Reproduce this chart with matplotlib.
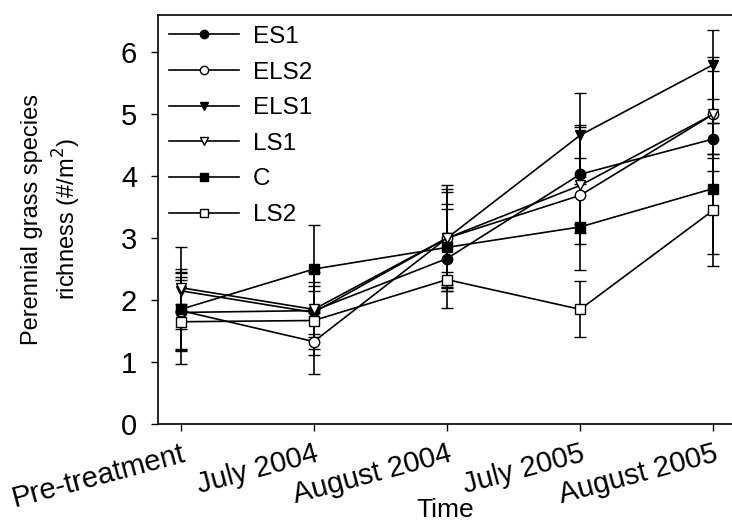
import numpy as np
import matplotlib
matplotlib.use("Agg")
import matplotlib.pyplot as plt

plt.rcParams['font.family'] = ['Liberation Sans', 'DejaVu Sans']

# sampling dates
times = ["Pre-treatment", "July 2004", "August 2004", "July 2005", "August 2005"]

# mean richness per treatment
es1 = [1.80, 1.83, 2.67, 4.03, 4.60]
els2 = [1.83, 1.33, 3.00, 3.69, 5.00]
els1 = [2.15, 1.80, 3.00, 4.66, 5.80]
ls1 = [2.20, 1.85, 3.00, 3.85, 5.00]
c = [1.85, 2.50, 2.85, 3.18, 3.80]
ls2 = [1.65, 1.67, 2.33, 1.85, 3.45]

# standard errors
es1_err = [0.63, 0.62, 0.80, 0.80, 0.25]
els2_err = [0.62, 0.52, 0.80, 0.61, 0.70]
els1_err = [0.22, 0.35, 0.75, 0.68, 0.55]
ls1_err = [0.66, 0.44, 0.85, 0.95, 0.92]
c_err = [0.65, 0.71, 0.70, 0.70, 1.05]
ls2_err = [0.68, 0.55, 0.12, 0.45, 0.90]

series = [
    ("ES1", es1, es1_err, 'o', 'black'),
    ("ELS2", els2, els2_err, 'o', 'white'),
    ("ELS1", els1, els1_err, 'v', 'black'),
    ("LS1", ls1, ls1_err, 'v', 'white'),
    ("C", c, c_err, 's', 'black'),
    ("LS2", ls2, ls2_err, 's', 'white'),
]

fig = plt.figure(figsize=(7.32, 5.22), dpi=100)
ax = fig.add_axes([158 / 732, 98 / 522, 574 / 732, 409 / 522])

x = np.arange(len(times))
for name, vals, err, mk, fc in series:
    ax.errorbar(x, vals, yerr=err, color='black', lw=1.2, elinewidth=1.2,
                capsize=4.5, capthick=1.2, marker=mk, markersize=7.5,
                markerfacecolor=fc, markeredgecolor='black',
                markeredgewidth=1.0, label=name)

ax.set_xlim(-0.17, 4.14)
ax.set_ylim(0, 6.6)
ax.set_yticks(range(7))
ax.set_xticks(x)
ax.set_xticklabels(times, rotation=15, ha='right', rotation_mode='anchor',
                   fontsize=21)
ax.tick_params(axis='y', labelsize=21, direction='out', length=5, width=1,
               pad=10)
ax.tick_params(axis='x', direction='out', length=5, width=1, pad=6)
ax.spines['right'].set_visible(False)
for s in ['left', 'bottom', 'top']:
    ax.spines[s].set_linewidth(1.2)

ax.set_xlabel("Time", fontsize=19)
ax.xaxis.set_label_coords(0.5, -0.18)
ax.set_ylabel("Perennial grass species\nrichness (#/m$^2$)", fontsize=17,
              linespacing=1.3)
ax.yaxis.set_label_coords(-0.131, 0.5)

handles, labels = ax.get_legend_handles_labels()
handles = [h[0] for h in handles]
leg = ax.legend(handles, labels, loc='upper left', frameon=False,
                fontsize=17.5, handlelength=2.9, labelspacing=0.56,
                handletextpad=0.55, borderaxespad=0.0, borderpad=0.45,
                markerscale=0.8)

fig.savefig("out.png", dpi=100)
